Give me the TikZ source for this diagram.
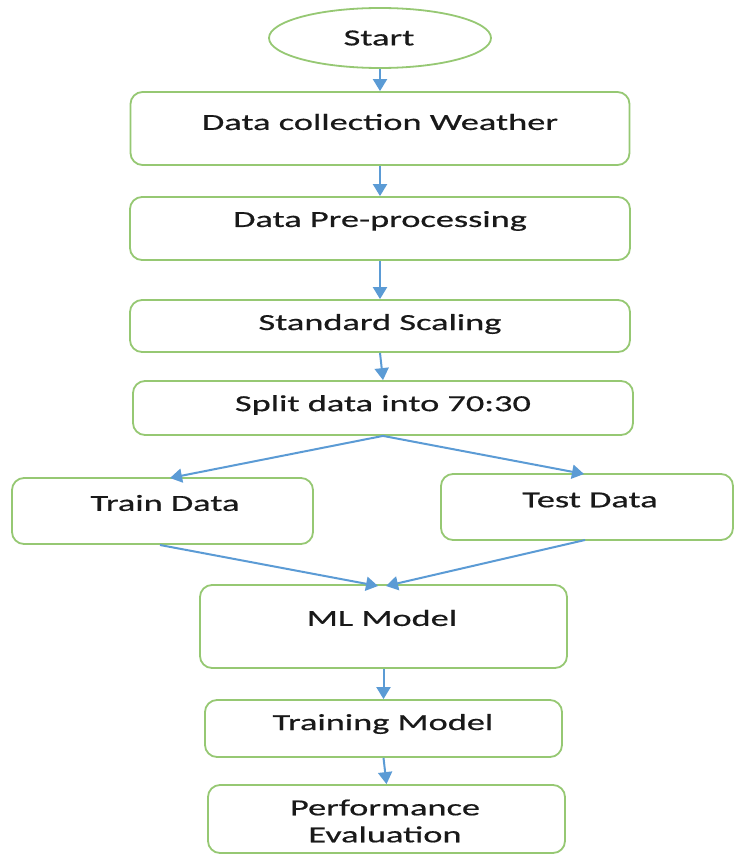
\documentclass[tikz,border=0pt]{standalone}
\usepackage{fontspec}
\setmainfont{Carlito}
\newfontfamily\lblfont[FakeStretch=1.58,FakeBold=0.6]{Carlito}
\usetikzlibrary{shapes.geometric,arrows.meta}
\definecolor{boxgreen}{RGB}{150,200,115}
\definecolor{arrowblue}{RGB}{91,155,213}
\definecolor{txt}{RGB}{25,25,25}
\tikzset{
  box/.style={draw=boxgreen, line width=1.8pt, rounded corners=12pt, fill=white, inner sep=0pt},
  oval/.style={draw=boxgreen, line width=1.8pt, ellipse, inner sep=0pt, minimum width=222pt, minimum height=60pt},
  lbl/.style={text=txt, font=\lblfont\fontsize{23}{27}\selectfont, inner sep=0pt, align=center},
  arr/.style={draw=arrowblue, line width=2pt, -{Triangle[length=12pt,width=14pt]}},
}
\begin{document}
\begin{tikzpicture}[x=1pt,y=-1pt]
\useasboundingbox (0,0) rectangle (733,856);
\fill[white] (0,0) rectangle (733,856);
% shapes
\node[oval] (start) at (380,38) {};
\node[box, minimum width=499pt, minimum height=73pt] (b1) at (380,128.5) {};
\node[box, minimum width=500pt, minimum height=63pt] (b2) at (380,228.5) {};
\node[box, minimum width=500pt, minimum height=52pt] (b3) at (380,326) {};
\node[box, minimum width=500pt, minimum height=54pt] (b4) at (383,408) {};
\node[box, minimum width=301pt, minimum height=66pt] (train) at (162.5,511) {};
\node[box, minimum width=292pt, minimum height=66pt] (test) at (587,507) {};
\node[box, minimum width=367pt, minimum height=83pt] (ml) at (383.5,626.5) {};
\node[box, minimum width=357pt, minimum height=57pt] (tm) at (383.5,728.5) {};
\node[box, minimum width=357pt, minimum height=68pt] (pe) at (386.5,819) {};
% labels
\node[lbl] (tstart) at (379,38) {Start};
\node[lbl] (t1) at (380,122) {Data collection Weather};
\node[lbl] (t2) at (380,221) {Data Pre-processing};
\node[lbl] (t3) at (380,324) {Standard Scaling};
\node[lbl] (t4) at (383,405) {Split data into 70:30};
\node[lbl] (ttrain) at (165,503) {Train Data};
\node[lbl] (ttest) at (590,500) {Test Data};
\node[lbl] (tml) at (382,618) {ML Model};
\node[lbl] (ttm) at (383,724) {Training Model};
\node[lbl] (tpe) at (385,821) {Performance\\Evaluation};
% connector points
\coordinate (trainin) at (170,478);
\coordinate (testin) at (584,474);
\coordinate (trainout) at (160,545);
\coordinate (testout) at (585,540);
\coordinate (mlinl) at (378,586);
\coordinate (mlinr) at (386,586);
% connectors
\draw[arr] (start.south) -- (b1.north);
\draw[arr] (b1.south) -- (b2.north);
\draw[arr] (b2.south) -- (b3.north);
\draw[arr] (b3.south) -- (b4.north);
\draw[arr] (b4.south) -- (trainin);
\draw[arr] (b4.south) -- (testin);
\draw[arr] (trainout) -- (mlinl);
\draw[arr] (testout) -- (mlinr);
\draw[arr] (ml.south) -- (tm.north);
\draw[arr] (tm.south) -- (pe.north);
\end{tikzpicture}
\end{document}
